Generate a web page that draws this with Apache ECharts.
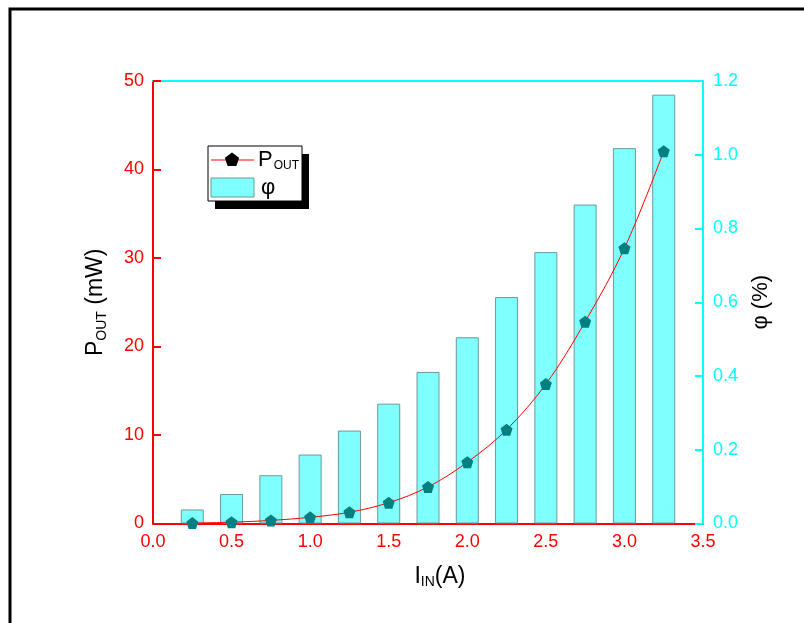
<!DOCTYPE html>
<html>
<head>
<meta charset="utf-8">
<script src="https://cdn.jsdelivr.net/npm/echarts@6/dist/echarts.min.js"></script>
<style>
  html, body { margin: 0; padding: 0; background: #ffffff; }
  #chart { width: 804px; height: 623px; }
</style>
</head>
<body>
<div id="chart"></div>
<script>
// Input current (A)
const current = [0.25, 0.5, 0.75, 1.0, 1.25, 1.5, 1.75, 2.0, 2.25, 2.5, 2.75, 3.0, 3.25];
// Output power (mW), left axis
const pout = [0.05, 0.15, 0.35, 0.7, 1.27, 2.35, 4.13, 6.92, 10.6, 15.75, 22.8, 31.1, 42.06];
// Efficiency φ (%), right axis
const phi = [0.038, 0.080, 0.131, 0.187, 0.252, 0.325, 0.411, 0.505, 0.614, 0.736, 0.865, 1.018, 1.163];
// Axis tick settings
const xTicks = { min: 0, max: 3.5, interval: 0.5 };
const yLeftTicks = { min: 0, max: 50, interval: 10 };
const yRightTicks = { min: 0, max: 1.2, interval: 0.2 };

const RED = '#ff0000';
const CYAN = '#00ffff';
const PENTAGON = 'path://M0,-1 L0.951,-0.309 L0.588,0.809 L-0.588,0.809 L-0.951,-0.309 Z';
const FONT = 'Liberation Sans, Arial, sans-serif';

const chart = echarts.init(document.getElementById('chart'), null, { renderer: 'canvas' });

const pairs = (xs, ys) => xs.map((x, i) => [x, ys[i]]);

// Legend drawn as a framed box with a drop shadow
const LX = 208, LY = 146, LW = 94, LH = 55;
const legendGraphics = [
  { type: 'rect', shape: { x: LX + 7, y: LY + 8, width: LW, height: LH }, style: { fill: '#000' }, z: 100 },
  { type: 'rect', shape: { x: LX, y: LY, width: LW, height: LH }, style: { fill: '#fff', stroke: '#000', lineWidth: 1 }, z: 101 },
  { type: 'line', shape: { x1: LX + 3, y1: LY + 14, x2: LX + 46, y2: LY + 14 }, style: { stroke: RED, lineWidth: 1 }, z: 102 },
  { type: 'polygon', shape: { points: [[0, -1], [0.951, -0.309], [0.588, 0.809], [-0.588, 0.809], [-0.951, -0.309]].map(p => [LX + 24 + p[0] * 7.5, LY + 14 + p[1] * 7.5]) }, style: { fill: '#000' }, z: 103 },
  { type: 'text', x: LX + 50, y: LY + 14, style: {
      text: '{a|P}{s|OUT}', verticalAlign: 'middle', fill: '#000', fontFamily: FONT,
      rich: { a: { fontSize: 22, fontFamily: FONT, fill: '#000' }, s: { fontSize: 12, fontFamily: FONT, fill: '#000', padding: [11, 0, 0, 1] } }
    }, z: 103 },
  { type: 'rect', shape: { x: LX + 3, y: LY + 32, width: 43, height: 19 }, style: { fill: '#80ffff', stroke: '#6a9a9a', lineWidth: 1 }, z: 102 },
  { type: 'text', x: LX + 53, y: LY + 42, style: { text: 'φ', verticalAlign: 'middle', fill: '#000', fontSize: 22, fontFamily: FONT }, z: 103 }
];

const option = {
  backgroundColor: '#ffffff',
  animation: false,
  grid: { left: 153, right: 101, top: 81, bottom: 99.5, containLabel: false },
  xAxis: [
    {
      type: 'value', position: 'bottom', ...xTicks,
      name: '{a|I}{s|IN}{a|(A)}', nameLocation: 'middle', nameGap: 40,
      nameTextStyle: {
        padding: [0, 0, 0, 24],
        rich: { a: { fontSize: 23, fontFamily: FONT, color: '#000' }, s: { fontSize: 14, fontFamily: FONT, color: '#000', padding: [12, 0, 0, 0] } }
      },
      axisLine: { onZero: false, lineStyle: { color: RED, width: 2 } },
      axisTick: { inside: true, length: 8, lineStyle: { color: RED, width: 2 } },
      axisLabel: { color: RED, fontSize: 18, fontFamily: FONT, margin: 10, formatter: v => v.toFixed(1) },
      splitLine: { show: false }
    },
    {
      type: 'value', position: 'top', ...xTicks,
      axisLine: { onZero: false, lineStyle: { color: CYAN, width: 2 } },
      axisTick: { show: false }, axisLabel: { show: false }, splitLine: { show: false }
    }
  ],
  yAxis: [
    {
      type: 'value', position: 'left', ...yLeftTicks,
      name: '{a|P}{s|OUT}{a| (mW)}', nameLocation: 'middle', nameGap: 44, nameRotate: 90,
      nameTextStyle: {
        rich: { a: { fontSize: 23, fontFamily: FONT, color: '#000' }, s: { fontSize: 14, fontFamily: FONT, color: '#000', padding: [12, 0, 0, 0] } }
      },
      axisLine: { show: true, onZero: false, lineStyle: { color: RED, width: 2 } },
      axisTick: { show: true, inside: true, length: 8, lineStyle: { color: RED, width: 2 } },
      axisLabel: { color: RED, fontSize: 18, fontFamily: FONT, margin: 9 },
      splitLine: { show: false }
    },
    {
      type: 'value', position: 'right', ...yRightTicks, z: 5,
      name: 'φ (%)', nameLocation: 'middle', nameGap: 47, nameRotate: 90,
      nameTextStyle: { fontSize: 22, fontFamily: FONT, color: '#000' },
      axisLine: { show: true, onZero: false, lineStyle: { color: CYAN, width: 2 } },
      axisTick: { show: true, inside: true, length: 8, lineStyle: { color: CYAN, width: 2 } },
      axisLabel: { color: CYAN, fontSize: 18, fontFamily: FONT, margin: 10, formatter: v => v.toFixed(1) },
      splitLine: { show: false }
    }
  ],
  series: [
    {
      name: 'φ', type: 'bar', xAxisIndex: 0, yAxisIndex: 1,
      data: pairs(current, phi), barWidth: 23,
      itemStyle: { color: '#80ffff', borderColor: '#6a9a9a', borderWidth: 1 },
      z: 2
    },
    {
      name: 'POUT', type: 'line', xAxisIndex: 0, yAxisIndex: 0,
      data: pairs(current, pout), smooth: 0.35,
      lineStyle: { color: RED, width: 1 },
      symbol: PENTAGON, symbolSize: 12,
      itemStyle: { color: '#008080' },
      z: 3
    }
  ],
  graphic: [
    // outer frame
    { type: 'rect', shape: { x: 10, y: 9, width: 1000, height: 1000 }, style: { fill: 'none', stroke: '#000', lineWidth: 3 }, z: 200 },
    ...legendGraphics
  ]
};

chart.setOption(option);
</script>
</body>
</html>
